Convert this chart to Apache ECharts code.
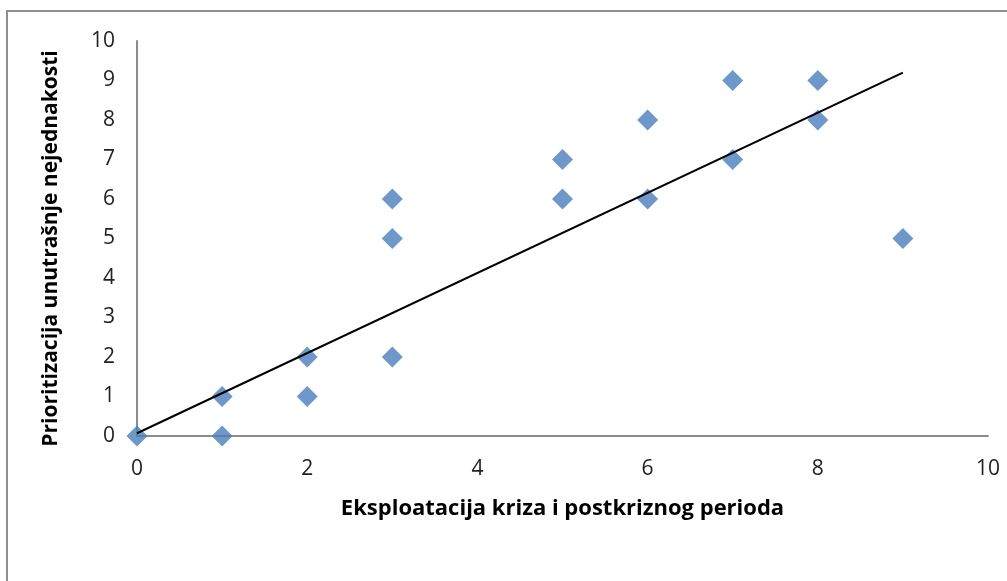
<!DOCTYPE html>
<html>
<head>
<meta charset="utf-8">
<script src="https://cdn.jsdelivr.net/npm/echarts@6/dist/echarts.min.js"></script>
<style>
html,body{margin:0;padding:0;background:#fff;}
#c{width:1007px;height:581px;}
</style>
</head>
<body>
<div id="c"></div>
<script>
var xValues = [0, 1, 1, 2, 2, 3, 3, 3, 5, 5, 6, 6, 7, 7, 8, 8, 9];
var yValues = [0, 1, 0, 2, 1, 6, 5, 2, 7, 6, 8, 6, 9, 7, 9, 8, 5];
var trendX = [0, 9];
var trendY = [0.07, 9.2];
var xTitle = 'Eksploatacija kriza i postkriznog perioda';
var yTitle = 'Prioritizacija unutrašnje nejednakosti';

var points = xValues.map(function (x, i) { return [x, yValues[i]]; });
var trend = trendX.map(function (x, i) { return [x, trendY[i]]; });

var font = '"Open Sans", "Noto Sans", sans-serif';
var chart = echarts.init(document.getElementById('c'));
chart.setOption({
  animation: false,
  backgroundColor: '#fff',
  graphic: [{
    type: 'rect',
    shape: { x: 7, y: 11, width: 1200, height: 800 },
    style: { fill: 'none', stroke: '#8e8e8e', lineWidth: 2 },
    silent: true
  }],
  grid: { left: 137, right: 19, top: 41, bottom: 145, containLabel: false },
  xAxis: {
    type: 'value', min: 0, max: 10, interval: 2,
    name: xTitle, nameLocation: 'middle', nameGap: 62,
    nameTextStyle: { fontFamily: font, fontWeight: 'bold', fontSize: 22, color: '#000' },
    axisLine: { show: true, onZero: false, lineStyle: { color: '#8c8c8c', width: 2 } },
    axisTick: { show: false },
    splitLine: { show: false },
    axisLabel: { fontFamily: font, fontSize: 21, color: '#222', margin: 23 }
  },
  yAxis: {
    type: 'value', min: 0, max: 10, interval: 1,
    name: yTitle, nameLocation: 'middle', nameGap: 75,
    nameTextStyle: { fontFamily: font, fontWeight: 'bold', fontSize: 21, color: '#000', padding: [0, 20, 0, 0] },
    axisLine: { show: true, onZero: false, lineStyle: { color: '#8c8c8c', width: 2 } },
    axisTick: { show: false },
    splitLine: { show: false },
    axisLabel: { fontFamily: font, fontSize: 21, color: '#222', margin: 22 }
  },
  series: [{
    type: 'scatter',
    data: points,
    symbol: 'diamond',
    symbolSize: 21,
    itemStyle: { color: '#4A7EBB' },
    z: 2
  }, {
    type: 'line',
    data: trend,
    symbol: 'none',
    lineStyle: { color: '#000', width: 2 },
    z: 3
  }]
});
</script>
</body>
</html>
